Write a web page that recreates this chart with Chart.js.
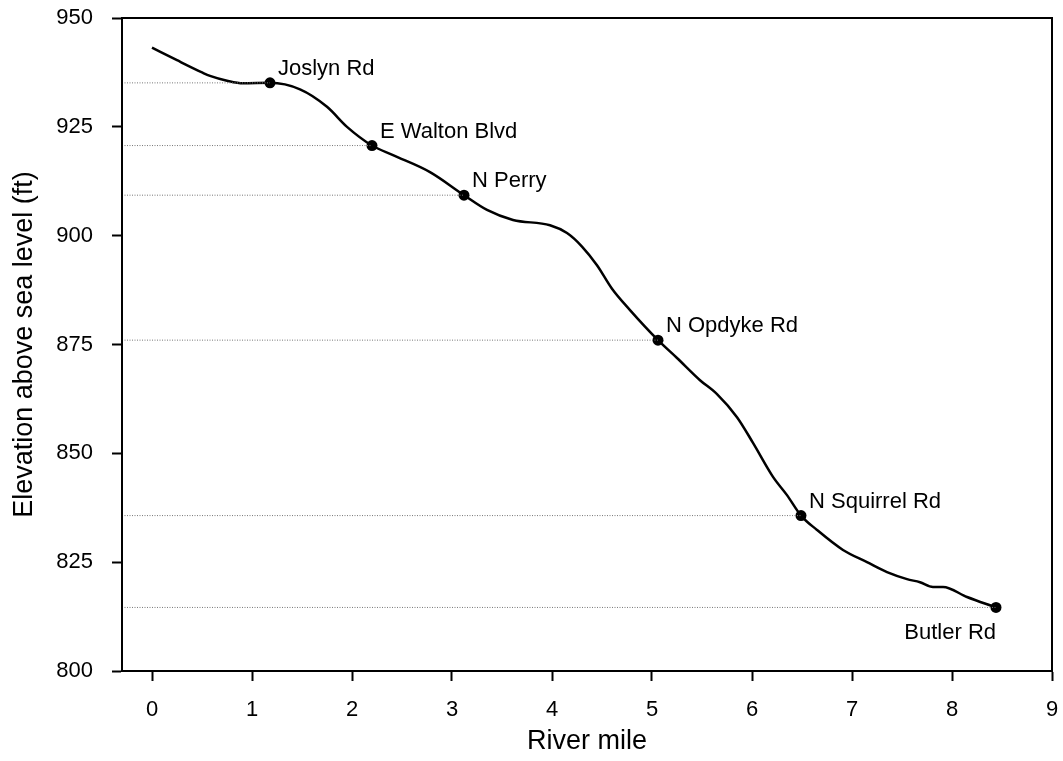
<!DOCTYPE html>
<html>
<head>
<meta charset="utf-8">
<script src="https://cdn.jsdelivr.net/npm/chart.js@4/dist/chart.umd.min.js"></script>
<style>
  html, body { margin: 0; padding: 0; background: #fff; }
  #wrap { width: 1063px; height: 761px; }
</style>
</head>
<body>
<div id="wrap"><canvas id="profileChart" width="1063" height="761"></canvas></div>
<script>
// River profile
const profileMiles = [0, 0.25, 0.5, 0.58, 0.75, 0.91, 1.18, 1.48, 1.75, 1.95, 2.2, 2.41, 2.78, 3.12, 3.35, 3.61, 3.98, 4.15, 4.3, 4.45, 4.6, 4.78, 5.06, 5.25, 5.48, 5.65, 5.85, 6.01, 6.21, 6.35, 6.49, 6.65, 6.91, 7.15, 7.35, 7.55, 7.68, 7.81, 7.91, 8.15, 8.44];
const profileElev  = [943.2, 940.3, 937.5, 936.7, 935.6, 935.0, 935.1, 933.6, 929.6, 925.0, 920.7, 918.5, 914.6, 909.3, 905.9, 903.6, 902.4, 900.6, 897.5, 893.2, 887.8, 882.9, 876.0, 871.9, 866.8, 863.6, 858.3, 852.4, 844.6, 840.4, 835.7, 832.4, 827.8, 825.0, 822.7, 821.1, 820.4, 819.3, 819.3, 817.0, 814.6];

// Road crossings (markers)
const stationNames = ["Joslyn Rd", "E Walton Blvd", "N Perry", "N Opdyke Rd", "N Squirrel Rd", "Butler Rd"];
const stationMiles = [1.18, 2.2, 3.12, 5.06, 6.49, 8.44];
const stationElev  = [935.1, 920.7, 909.3, 876.0, 835.7, 814.6];

// Axes
const xTicks = [0, 1, 2, 3, 4, 5, 6, 7, 8, 9];
const yTicks = [800, 825, 850, 875, 900, 925, 950];
const xMin = -0.3, xMax = 9;

Chart.defaults.font.family = "'Liberation Sans', Arial, sans-serif";
Chart.defaults.color = '#000';

// dotted guide lines from the y axis to each marker
var guideSets = stationMiles.map(function (m, i) {
  return {
    data: [{x: xMin, y: stationElev[i]}, {x: m, y: stationElev[i]}],
    borderColor: '#777',
    borderWidth: 1,
    borderDash: [1, 1.5],
    pointRadius: 0,
    tension: 0
  };
});

// box round the plot area
const frame = {
  id: 'frame',
  afterDatasetsDraw(chart) {
    const a = chart.chartArea, ctx = chart.ctx;
    ctx.save();
    ctx.strokeStyle = '#000';
    ctx.lineWidth = 2;
    ctx.strokeRect(a.left, a.top, a.right - a.left, a.bottom - a.top);
    ctx.restore();
  }
};

// station names next to markers
const stationLabels = {
  id: 'stationLabels',
  afterDatasetsDraw(chart) {
    const ctx = chart.ctx;
    const xs = chart.scales.x, ys = chart.scales.y;
    ctx.save();
    ctx.font = "22px 'Liberation Sans', Arial, sans-serif";
    ctx.fillStyle = '#000';
    ctx.textBaseline = 'middle';
    stationNames.forEach(function (name, i) {
      const px = xs.getPixelForValue(stationMiles[i]);
      const py = ys.getPixelForValue(stationElev[i]);
      if (i === stationNames.length - 1) {
        ctx.textAlign = 'right';
        ctx.fillText(name, px, py + 25);
      } else {
        ctx.textAlign = 'left';
        ctx.fillText(name, px + 8, py - 14);
      }
    });
    ctx.restore();
  }
};

new Chart(document.getElementById('profileChart'), {
  type: 'line',
  data: {
    datasets: guideSets.concat([
      {
        data: profileMiles.map(function (m, i) { return {x: m, y: profileElev[i]}; }),
        borderColor: '#000',
        borderWidth: 2.5,
        pointRadius: 0,
        cubicInterpolationMode: 'monotone'
      },
      {
        data: stationMiles.map(function (m, i) { return {x: m, y: stationElev[i]}; }),
        showLine: false,
        pointRadius: 5.5,
        pointBackgroundColor: '#000',
        pointBorderColor: '#000',
        pointBorderWidth: 0
      }
    ])
  },
  options: {
    responsive: false,
    animation: false,
    layout: { padding: { top: 18, right: 11, left: 0, bottom: 0 } },
    plugins: {
      legend: { display: false },
      tooltip: { enabled: false }
    },
    scales: {
      x: {
        type: 'linear',
        min: xMin,
        max: xMax,
        afterBuildTicks: function (scale) { scale.ticks = xTicks.map(function (v) { return {value: v}; }); },
        afterFit: function (scale) {
          scale.height = 90;
          scale.paddingLeft = 0;   // let the tick labels hang over the edge
          scale.paddingRight = 0;
        },
        grid: { drawOnChartArea: false, tickLength: 10, tickWidth: 2, tickColor: '#000' },
        border: { color: '#000', width: 2 },
        ticks: { font: { size: 22 }, padding: 16, maxRotation: 0 },
        title: { display: true, text: 'River mile', font: { size: 27 }, padding: { top: 3, bottom: 3 } }
      },
      y: {
        min: 800,
        max: 950,
        afterBuildTicks: function (scale) { scale.ticks = yTicks.map(function (v) { return {value: v}; }); },
        afterFit: function (scale) {
          scale.width = 122;
          scale.paddingTop = 0;
          scale.paddingBottom = 0;
        },
        grid: { drawOnChartArea: false, tickLength: 10, tickWidth: 2, tickColor: '#000' },
        border: { color: '#000', width: 2 },
        ticks: { font: { size: 22 }, padding: 19 },
        title: { display: true, text: 'Elevation above sea level (ft)', font: { size: 27 }, padding: { top: 8, bottom: 8 } }
      }
    }
  },
  plugins: [frame, stationLabels]
});
</script>
</body>
</html>
